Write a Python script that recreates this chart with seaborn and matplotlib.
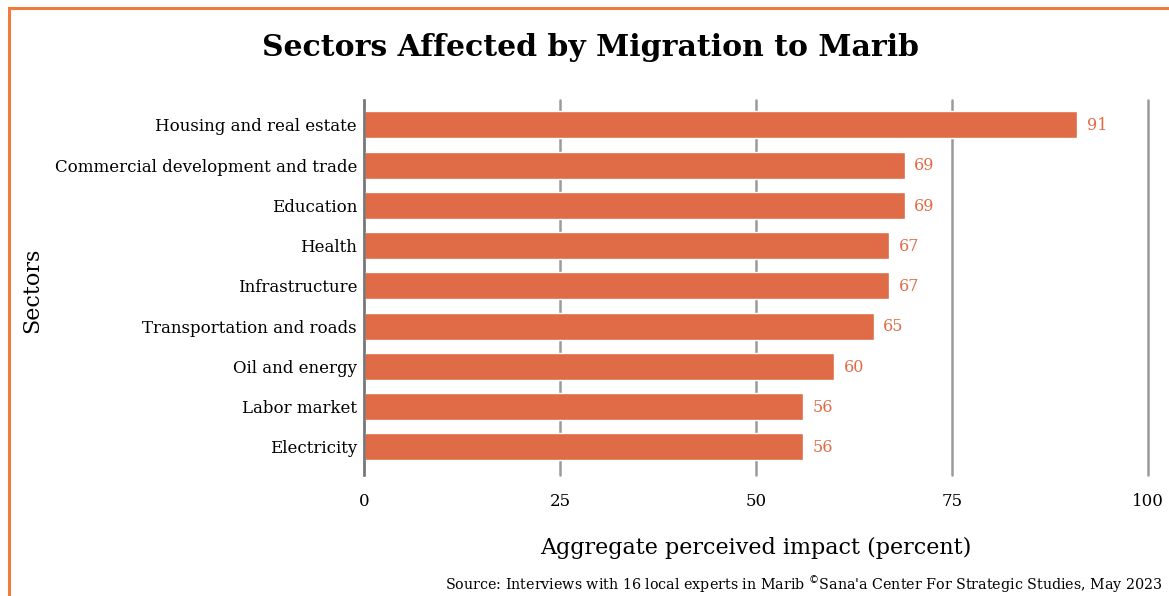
import matplotlib
matplotlib.use("Agg")
import matplotlib.pyplot as plt
import seaborn as sns
import pandas as pd
from matplotlib.patches import Rectangle

sectors = [
    "Housing and real estate",
    "Commercial development and trade",
    "Education",
    "Health",
    "Infrastructure",
    "Transportation and roads",
    "Oil and energy",
    "Labor market",
    "Electricity",
]
impact = [91, 69, 69, 67, 67, 65, 60, 56, 56]
x_ticks = [0, 25, 50, 75, 100]

BAR = "#DF6C46"
SERIF = ["DejaVu Serif"]

sns.set_theme(style="white")
plt.rcParams["font.family"] = SERIF
for key in ["text.color", "axes.labelcolor", "xtick.color", "ytick.color"]:
    plt.rcParams[key] = "black"

df = pd.DataFrame({"sector": sectors, "impact": impact})

fig = plt.figure(figsize=(11.69, 5.96), dpi=100)
ax = fig.add_axes([364 / 1169, 1 - 475 / 596, (1148 - 364) / 1169, 375 / 596])

sns.barplot(data=df, x="impact", y="sector", color=BAR, saturation=1,
            width=0.67, ax=ax, orient="h")

ax.set_xlim(0, 100)
ax.set_ylim(8.7, -0.62)
ax.set_xticks(x_ticks)
ax.set_xticklabels([str(t) for t in x_ticks], fontsize=12)
ax.xaxis.grid(True, color="#9a9a9a", linewidth=1.8)
for gl in ax.get_xgridlines():
    gl.set_clip_on(False)
ax.set_axisbelow(True)
ax.tick_params(axis="x", length=0, pad=13)
ax.tick_params(axis="y", length=0, pad=5, labelsize=12)

for side in ["top", "right", "bottom"]:
    ax.spines[side].set_visible(False)
ax.spines["left"].set_color("#777777")
ax.spines["left"].set_linewidth(1.8)

for i, v in enumerate(impact):
    ax.text(v + 1.2, i + 0.02, str(v), color=BAR, fontsize=11.5, va="center", ha="left")

ax.set_xlabel("Aggregate perceived impact (percent)", fontsize=16, labelpad=19)
ax.set_ylabel("")
fig.text(32 / 1169, 1 - 290 / 596, "Sectors", rotation=90, fontsize=16,
         ha="center", va="center")

fig.text(590 / 1169, 1 - 48 / 596, "Sectors Affected by Migration to Marib",
         fontsize=21.5, fontweight="bold", ha="center", va="center")

fig.text(1163 / 1169, 1 - 585 / 596,
         "Source: Interviews with 16 local experts in Marib $^{\\copyright}$Sana'a Center For Strategic Studies, May 2023",
         fontsize=10.3, ha="right", va="center")

# orange frame around the figure
fig.patches.append(Rectangle((9 / 1169, -0.1), 1.2, 1 - 8 / 596 + 0.1,
                             transform=fig.transFigure, fill=False,
                             edgecolor="#F27A3A", linewidth=2.2))

fig.savefig("out.png", dpi=100, facecolor="white")
